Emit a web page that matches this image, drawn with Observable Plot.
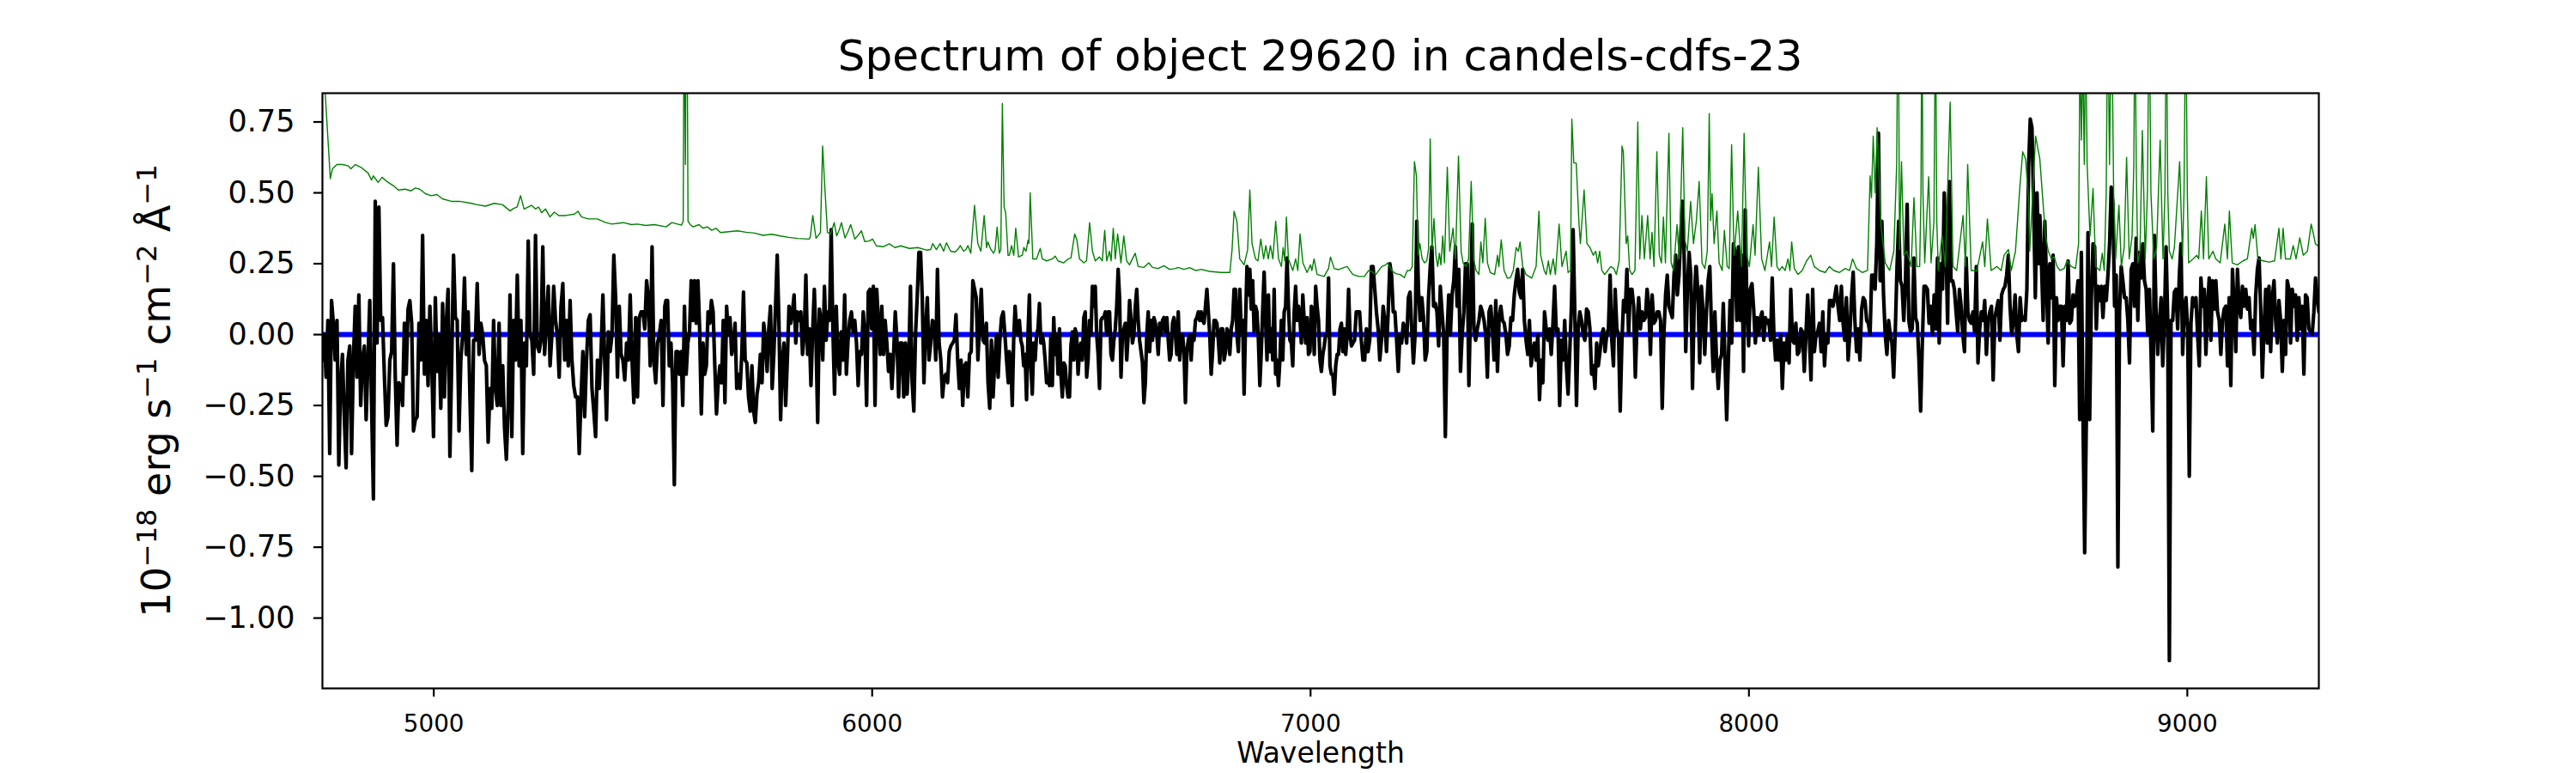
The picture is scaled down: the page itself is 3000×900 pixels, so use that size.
<!DOCTYPE html>
<html>
<head>
<meta charset="utf-8">
<script src="https://cdn.jsdelivr.net/npm/d3@7"></script>
<script src="https://cdn.jsdelivr.net/npm/@observablehq/plot@0.6"></script>
<style>
  body { margin: 0; background: #fff; font-family: "DejaVu Sans", sans-serif; }
  #title { width: 3000px; height: 95px; box-sizing: border-box; padding-top: 35px; padding-left: 75px;
           text-align: center; font-size: 50px; line-height: 60px; color: #000; white-space: nowrap; }
</style>
</head>
<body>
<div id="title">Spectrum of object 29620 in candels-cdfs-23</div>
<div id="chart"></div>
<script>
// wavelength range (Angstrom) of each stretch of the observed spectrum (regular sampling inside each stretch)
const segStart = [4746, 5529.5, 6313, 7096.6, 7880, 8663.6];
const segEnd   = [5527, 6310.5, 7093.3, 7878.9, 8661, 9300];

// observed flux, 1e-18 erg/s/cm2/A
const flux1 = [-0.09,0.00,-0.15,0.05,-0.42,0.12,0.04,-0.09,0.05,-0.46,-0.17,-0.07,-0.29,-0.47,-0.09,-0.04,-0.42,-0.09,0.10,-0.15,0.14,-0.25,-0.09,-0.04,-0.30,-0.09,0.12,-0.25,-0.58,0.47,-0.03,0.45,0.05,0.06,-0.14,-0.32,-0.29,-0.09,-0.06,0.25,-0.15,-0.39,-0.17,-0.19,-0.25,0.04,-0.14,0.09,0.12,0.04,-0.34,-0.30,-0.29,0.04,-0.09,0.35,-0.14,0.05,-0.18,0.10,-0.09,-0.36,0.13,-0.13,0.00,-0.26,0.11,-0.22,0.04,0.16,-0.43,-0.09,0.28,0.06,0.05,-0.34,-0.09,0.00,0.20,-0.07,0.08,-0.22,-0.48,-0.02,-0.02,0.18,-0.07,0.04,0.00,-0.09,-0.11,-0.38,-0.19,-0.26,0.05,-0.19,-0.25,0.04,-0.25,-0.11,-0.33,-0.44,-0.25,0.14,-0.36,0.05,-0.09,0.21,-0.11,0.05,-0.42,-0.03,-0.11,0.33,0.00,-0.02,-0.14,0.35,-0.04,-0.06,-0.02,0.31,-0.07,0.05,0.17,-0.11,0.00,0.17,0.05,0.00,-0.15,0.10,0.18,-0.09,0.05,-0.11,0.12,-0.09,-0.18,-0.22,-0.22,-0.42,-0.22,-0.06,-0.29,-0.09,0.05,0.07,-0.19,-0.27,-0.36,-0.09,-0.19,-0.06,0.14,-0.09,-0.30,0.01,-0.06,0.00,0.28,0.13,-0.15,0.10,-0.07,-0.09,-0.16,-0.03,-0.09,0.14,-0.09,-0.24,0.06,-0.22,0.06,0.08,0.08,0.02,0.19,0.13,-0.11,0.31,-0.09,-0.17,-0.03,0.00,0.05,-0.25,0.10];
const flux2 = [0.12,0.12,-0.11,-0.03,-0.17,-0.53,-0.06,-0.06,-0.14,-0.06,-0.25,0.10,-0.14,-0.03,0.01,0.19,0.05,0.19,0.04,0.19,0.02,-0.28,-0.03,-0.14,-0.11,0.08,0.04,0.12,0.08,-0.11,-0.28,-0.17,-0.11,-0.17,0.05,-0.24,0.10,0.00,0.06,-0.07,-0.03,0.04,-0.19,-0.14,-0.19,-0.07,0.15,-0.09,-0.10,-0.22,-0.27,-0.11,-0.27,-0.31,-0.21,-0.17,-0.07,-0.17,0.04,-0.02,-0.13,0.02,0.10,-0.19,-0.07,0.10,0.28,0.05,-0.30,-0.09,-0.03,-0.25,-0.09,0.10,0.04,0.08,0.14,-0.03,0.08,0.05,0.08,-0.07,0.00,0.21,-0.07,0.02,-0.18,0.01,0.16,-0.02,-0.31,0.09,0.05,-0.09,0.17,-0.02,0.08,0.05,0.37,0.02,-0.21,0.10,-0.09,-0.14,0.01,-0.09,0.14,-0.14,-0.02,0.05,0.08,0.01,0.05,-0.03,-0.18,-0.06,-0.07,0.08,0.00,-0.25,0.15,0.16,0.02,0.17,-0.25,0.16,0.04,-0.07,0.10,-0.07,0.05,-0.03,-0.13,-0.07,-0.19,-0.07,0.08,-0.02,-0.22,-0.03,-0.03,-0.22,-0.03,-0.21,-0.09,0.17,-0.17,-0.27,0.00,0.13,0.29,0.29,0.13,-0.17,0.02,0.13,-0.09,-0.03,0.05,0.04,-0.09,0.23,-0.03,-0.09,-0.22,-0.15,-0.14,-0.17,-0.06,-0.04,-0.03,-0.02,0.07,-0.09,-0.19,-0.09,-0.25,-0.11,-0.10,-0.22,-0.07,-0.06,0.19,0.16,0.13,-0.09,0.04,0.16,-0.02,-0.03,0.04,-0.17,-0.26,-0.02,-0.22,-0.09,0.00,-0.15,-0.02,0.06,0.08,0.00,-0.09,-0.17];
const flux3 = [-0.06,-0.09,-0.25,-0.02,0.10,0.02,0.00,0.05,-0.02,-0.04,-0.11,-0.07,-0.23,0.00,0.14,-0.11,-0.21,-0.03,-0.09,0.00,0.02,0.11,-0.03,0.00,-0.03,-0.09,-0.17,-0.15,-0.18,0.00,-0.18,0.06,-0.07,0.00,-0.14,0.02,-0.14,-0.22,-0.10,-0.11,-0.18,-0.22,-0.22,-0.04,0.01,-0.09,0.02,0.00,-0.14,-0.06,-0.03,-0.09,0.06,0.08,-0.15,-0.09,0.05,0.00,0.17,0.10,0.17,0.00,-0.07,-0.19,0.05,0.06,0.06,0.08,0.00,0.08,0.08,-0.07,-0.09,-0.02,0.02,0.10,0.23,0.13,-0.15,0.00,0.02,0.04,-0.09,0.00,0.12,0.05,-0.03,0.00,0.10,0.16,0.05,-0.02,-0.06,-0.10,-0.24,-0.17,0.00,0.08,-0.06,0.05,-0.02,0.06,0.04,0.00,-0.07,0.04,0.00,0.05,0.06,0.01,0.06,-0.02,-0.09,-0.07,0.04,0.06,0.00,-0.07,0.08,-0.09,-0.02,0.00,-0.06,-0.24,-0.06,-0.02,0.00,-0.09,0.00,-0.02,0.05,0.06,0.08,0.05,0.08,0.05,0.04,0.10,0.16,0.08,0.00,-0.14,-0.06,0.05,0.05,0.04,-0.02,-0.10,0.02,0.02,-0.09,-0.06,0.02,0.01,-0.07,0.02,0.05,0.16,0.16,0.00,-0.06,0.16,0.01,0.05,-0.21,0.04,0.24,0.14,0.23,0.09,0.19,0.01,0.10,0.08,-0.02,-0.18,-0.06,0.09,0.22,0.05,-0.09,0.14,-0.06,0.02,-0.09,0.16,-0.14,-0.09,-0.18,-0.09,0.05,-0.09,0.08,0.10,0.27,0.10,-0.02,-0.03,-0.11,0.08,0.17,0.05,0.10,0.06,-0.03,0.14,0.05,-0.03,0.06,-0.07,-0.06,0.10,0.08,-0.07,0.17,0.10,0.05,-0.09,-0.13,-0.07,-0.04,0.00,0.00,0.20,-0.11,-0.14,-0.14,-0.21,-0.11,-0.07,-0.07,0.02,0.04,-0.06,0.02,-0.07,0.00,0.16,0.00,-0.04];
const flux4 = [-0.03,-0.02,0.08,0.08,0.08,-0.02,-0.09,-0.09,0.02,-0.06,-0.02,0.24,0.24,0.16,0.08,0.02,-0.09,-0.02,0.10,0.05,-0.06,0.08,0.25,0.21,0.08,0.08,-0.02,-0.13,0.00,-0.03,0.04,0.02,-0.03,0.13,0.15,0.02,-0.10,0.00,0.40,0.16,0.05,0.13,0.06,-0.09,-0.06,0.13,0.24,0.31,0.10,0.11,0.08,-0.04,0.17,0.08,0.00,-0.36,0.00,0.14,0.00,0.14,0.19,0.31,0.10,0.23,-0.13,0.00,0.08,0.25,0.25,-0.18,0.10,0.39,0.02,-0.02,0.02,0.05,0.10,0.08,0.05,0.00,-0.15,0.08,0.10,0.02,-0.09,0.12,-0.13,0.06,0.10,0.05,0.04,0.00,-0.07,-0.04,0.06,0.05,0.14,0.19,0.23,0.15,0.13,0.23,0.05,-0.02,-0.07,0.05,-0.11,-0.06,-0.03,-0.09,0.00,-0.23,-0.09,-0.17,0.08,0.02,-0.02,0.02,-0.07,0.04,0.17,0.01,0.02,-0.25,-0.02,-0.09,0.05,-0.11,-0.21,-0.06,0.10,0.37,0.08,-0.25,0.02,0.08,0.05,0.00,-0.02,0.09,0.08,0.02,-0.14,-0.11,-0.19,-0.03,-0.11,-0.06,0.00,0.02,-0.06,0.00,0.02,0.21,-0.02,-0.11,0.16,0.02,0.00,-0.27,-0.03,0.12,0.08,0.23,0.00,0.16,0.16,0.10,-0.15,0.04,0.13,0.02,0.08,0.05,0.06,0.16,0.10,-0.07,0.14,0.04,0.05,0.08,0.08,0.05,-0.26,0.00,0.14,0.21,0.10,0.08,0.06,0.21,0.28,0.14,0.21,0.35,0.47,0.29,-0.06,0.16,0.29,0.21,-0.19,0.10,0.24];
const flux5 = [0.24,0.14,-0.10,0.17,0.08,-0.07,0.08,0.19,0.24,0.02,-0.13,0.08,-0.09,-0.19,-0.09,-0.07,0.11,-0.09,-0.30,-0.09,0.12,-0.03,0.32,0.29,0.05,0.31,0.05,0.28,-0.13,0.44,0.10,-0.04,0.16,0.18,0.09,-0.03,0.06,0.00,0.06,0.08,-0.02,0.06,0.04,0.05,-0.02,0.20,0.00,-0.09,-0.02,-0.09,0.00,-0.19,-0.03,-0.09,0.00,-0.10,0.16,-0.02,-0.03,0.04,-0.07,-0.06,0.02,0.01,-0.13,0.00,0.14,0.00,-0.16,0.16,-0.06,0.00,0.01,0.04,-0.06,0.08,-0.11,0.00,-0.03,0.12,0.12,0.10,0.13,0.17,0.10,0.05,0.17,0.04,-0.02,0.13,-0.09,0.00,0.13,0.22,0.05,-0.06,0.02,-0.09,0.09,0.13,0.12,0.05,0.04,0.00,0.21,0.21,0.16,0.32,0.71,0.19,0.40,0.14,0.00,-0.07,0.05,0.00,-0.03,-0.15,0.02,0.24,0.40,0.19,0.17,0.05,0.19,0.46,0.05,0.01,0.02,0.27,0.06,0.04,-0.09,-0.27,-0.03,0.17,0.17,0.16,0.04,0.10,0.00,0.14,0.02,0.27,-0.03,0.25,0.16,0.50,0.32,0.04,0.54,0.19,0.19,0.16,0.08,0.01,0.16,0.10,0.00,-0.06,0.27,0.08,0.05,0.04,0.08,0.01,0.24,-0.10,0.02,0.08,0.05,0.12,-0.07,0.05,0.08,0.10,-0.16,0.06,0.09,0.12,-0.02,0.14,0.16,0.17,0.21,0.28,0.10,0.00,0.05,0.14,0.00,-0.06,0.13,0.05,0.06,0.05,0.16,0.59,0.76,0.73,0.46,0.13,0.50,0.25];
const flux6 = [0.42,0.25,0.05,0.40,0.19,-0.03,0.25,0.13,0.28,-0.18,0.13,0.05,0.10,0.10,-0.11,0.10,0.05,0.26,0.04,0.05,0.14,0.10,0.13,0.19,-0.30,0.29,-0.30,-0.77,-0.30,0.36,-0.30,0.12,0.32,0.31,0.02,0.17,0.12,0.17,0.06,0.17,0.12,0.21,0.32,0.52,0.46,0.10,0.21,-0.82,0.08,0.24,0.19,0.13,0.13,0.05,-0.10,0.23,0.25,0.10,0.34,0.05,0.29,0.20,0.32,0.19,0.16,0.00,0.16,-0.07,-0.34,0.35,0.08,-0.07,0.04,0.13,-0.11,0.05,0.31,0.06,-1.15,0.05,0.05,0.15,0.16,0.02,0.21,0.32,-0.07,0.09,0.13,0.02,-0.50,0.04,0.13,0.10,0.13,0.00,-0.11,0.20,0.10,0.16,-0.07,0.10,0.20,-0.02,0.19,0.09,0.19,0.08,0.05,-0.07,0.05,0.09,0.10,-0.11,0.13,-0.18,0.23,0.10,-0.06,0.23,0.10,0.06,0.17,0.10,0.16,0.09,0.13,0.02,0.05,-0.07,0.14,0.23,0.27,0.09,-0.15,0.02,0.16,-0.03,0.17,-0.06,0.13,0.19,0.05,-0.03,0.12,0.05,-0.13,0.05,-0.07,0.19,0.16,-0.03,0.16,0.10,0.14,-0.02,0.13,0.02,0.10,-0.14,0.14,0.13,0.02,0.01,0.00,0.08,0.20,0.13,0.08];

// scaled sky spectrum: [wavelength, flux]
const skyModel = [
[4746,1.0],[4752,0.86],[4764,0.55],[4769,0.585],[4779,0.60],[4792,0.60],[4805,0.595],[4811,0.585],[4821,0.60],[4834,0.59],[4850,0.57],[4858,0.545],[4862,0.56],[4867,0.55],[4873,0.537],[4882,0.555],[4893,0.54],[4909,0.524],[4919,0.51],[4935,0.513],[4948,0.507],[4958,0.517],[4968,0.513],[4981,0.497],[4994,0.49],[5007,0.494],[5020,0.479],[5040,0.47],[5059,0.47],[5086,0.463],[5099,0.458],[5118,0.453],[5138,0.463],[5157,0.458],[5174,0.436],[5182,0.445],[5190,0.45],[5198,0.49],[5206,0.443],[5223,0.456],[5232,0.443],[5239,0.45],[5246,0.43],[5255,0.443],[5265,0.415],[5275,0.432],[5285,0.42],[5301,0.42],[5321,0.425],[5329,0.435],[5337,0.415],[5353,0.408],[5373,0.408],[5392,0.395],[5406,0.39],[5432,0.395],[5451,0.388],[5464,0.39],[5484,0.385],[5503,0.388],[5530,0.38],
[5543,0.395],[5556,0.39],[5565,0.386],[5569,0.40],[5571,1.2],[5574,0.6],[5576.5,1.5],[5580,0.40],[5585,0.388],[5591.5,0.38],[5605,0.388],[5614,0.375],[5624,0.38],[5634,0.368],[5644,0.375],[5654,0.36],[5673,0.363],[5693,0.366],[5712,0.361],[5732,0.358],[5751,0.35],[5771,0.354],[5791,0.348],[5810,0.343],[5830,0.339],[5856,0.337],[5859,0.345],[5864.5,0.42],[5872,0.34],[5882,0.36],[5887,0.665],[5892,0.52],[5898,0.36],[5905,0.354],[5913.5,0.395],[5919,0.348],[5925,0.37],[5930,0.395],[5938,0.341],[5944,0.36],[5951,0.388],[5960.5,0.337],[5968,0.35],[5975.5,0.366],[5983,0.328],[5993,0.33],[6001,0.337],[6009.5,0.313],[6026,0.31],[6039,0.32],[6052,0.307],[6065,0.313],[6085,0.304],[6104,0.307],[6124,0.298],[6133.5,0.30],[6138,0.321],[6146.5,0.30],[6155,0.321],[6163,0.294],[6169.5,0.324],[6179,0.294],[6189,0.291],[6195.5,0.30],[6201,0.314],[6208.5,0.294],[6214,0.30],[6218.5,0.314],[6225,0.287],[6233.5,0.456],[6241,0.321],[6248,0.294],[6255.5,0.42],[6261,0.307],[6264,0.327],[6270.5,0.301],[6277,0.287],[6280.5,0.30],[6285,0.379],[6290,0.287],[6293.5,0.30],[6297,0.815],[6301,0.45],[6304.5,0.43],[6310,0.279],
[6313,0.28],[6318,0.314],[6323,0.28],[6327.5,0.375],[6334,0.274],[6342.5,0.28],[6346,0.307],[6351,0.294],[6355.5,0.333],[6357.5,0.321],[6360.5,0.50],[6366.5,0.267],[6375,0.267],[6379.5,0.287],[6383.5,0.304],[6388,0.267],[6398,0.26],[6411,0.267],[6417.5,0.277],[6424,0.26],[6437,0.253],[6447,0.267],[6453.5,0.27],[6462,0.355],[6467,0.334],[6473,0.267],[6483,0.253],[6489,0.26],[6496,0.395],[6502.5,0.294],[6509,0.26],[6518.5,0.274],[6525,0.26],[6530.5,0.368],[6535,0.26],[6541.5,0.294],[6545,0.26],[6550,0.375],[6554.5,0.267],[6560,0.355],[6567.5,0.253],[6574,0.348],[6580.5,0.26],[6587,0.246],[6600,0.287],[6607,0.24],[6620,0.237],[6631,0.253],[6639.5,0.237],[6652.5,0.233],[6665.5,0.243],[6678.5,0.23],[6692,0.233],[6698,0.237],[6711,0.23],[6724.5,0.236],[6737.5,0.226],[6750.5,0.23],[6770,0.223],[6796,0.219],[6816,0.219],[6821,0.30],[6825.5,0.435],[6832,0.40],[6838.5,0.267],[6848.5,0.246],[6856.5,0.30],[6861.5,0.51],[6866.5,0.321],[6874.5,0.267],[6880,0.26],[6886.5,0.337],[6893,0.267],[6898,0.314],[6903.5,0.267],[6908.5,0.314],[6914,0.267],[6920.5,0.40],[6927,0.267],[6933.5,0.24],[6937.5,0.307],[6941,0.26],[6945,0.415],[6949.5,0.267],[6959.5,0.226],[6966,0.267],[6971,0.226],[6976,0.355],[6982.5,0.253],[6992,0.219],[7000,0.246],[7003,0.226],[7008,0.267],[7015,0.212],[7031,0.205],[7041,0.233],[7045.5,0.274],[7054,0.233],[7064,0.229],[7077,0.237],[7083.5,0.24],[7096.5,0.212],
[7110,0.205],[7123,0.205],[7132.5,0.226],[7139,0.223],[7149,0.212],[7162,0.24],[7171.5,0.246],[7176,0.253],[7185,0.226],[7194.5,0.215],[7204.5,0.212],[7214,0.201],[7220.5,0.226],[7227,0.226],[7232,0.24],[7237,0.61],[7241.5,0.56],[7245.5,0.28],[7249.5,0.321],[7254.5,0.267],[7260,0.253],[7265,0.26],[7269,0.30],[7273,0.69],[7277,0.30],[7281.5,0.409],[7286,0.28],[7290,0.24],[7294,0.287],[7297.5,0.246],[7301.5,0.348],[7305.5,0.253],[7312,0.59],[7317.5,0.294],[7325,0.375],[7330.5,0.267],[7337.5,0.63],[7343.5,0.294],[7348,0.253],[7354.5,0.24],[7360.5,0.267],[7366.5,0.54],[7372,0.267],[7377.5,0.226],[7384,0.212],[7388.5,0.327],[7393,0.253],[7398.5,0.41],[7403.5,0.253],[7410,0.219],[7420,0.212],[7426.5,0.28],[7429.5,0.24],[7435,0.334],[7441.5,0.226],[7449,0.199],[7456,0.201],[7462.5,0.226],[7469,0.307],[7474,0.294],[7478,0.327],[7484,0.24],[7491.5,0.212],[7504.5,0.199],[7514.5,0.24],[7521,0.435],[7525,0.28],[7533,0.226],[7537.5,0.212],[7542.5,0.26],[7547,0.212],[7553.5,0.267],[7558.5,0.212],[7567,0.39],[7573.5,0.24],[7583,0.294],[7587.5,0.219],[7593,0.226],[7596,0.76],[7600.5,0.605],[7606,0.605],[7612.5,0.388],[7615.5,0.321],[7624,0.51],[7630.5,0.321],[7637.5,0.307],[7645,0.28],[7650.5,0.294],[7655,0.253],[7659.5,0.294],[7664.5,0.226],[7671,0.212],[7678,0.226],[7684.5,0.24],[7692,0.233],[7697.5,0.212],[7704,0.26],[7710.5,0.665],[7713.5,0.645],[7720,0.321],[7723.5,0.348],[7728,0.226],[7733.5,0.212],[7740,0.226],[7746.5,0.75],[7751,0.267],[7756,0.42],[7761.5,0.267],[7769,0.42],[7774.5,0.267],[7779,0.361],[7783.5,0.24],[7790,0.645],[7795.5,0.28],[7800.5,0.253],[7805,0.415],[7809.5,0.253],[7817.5,0.71],[7822.5,0.253],[7828,0.226],[7836,0.388],[7841,0.267],[7849,0.73],[7854,0.334],[7859.5,0.294],[7867,0.47],[7873.5,0.321],[7880,0.40],
[7886.5,0.54],[7893,0.253],[7899.5,0.233],[7905,0.294],[7909.5,0.78],[7912.5,0.402],[7916,0.497],[7920.5,0.321],[7927,0.436],[7932,0.253],[7939,0.226],[7944,0.368],[7950.5,0.24],[7955,0.233],[7960.5,0.67],[7966,0.28],[7974.5,0.436],[7983,0.24],[7989,0.71],[7995,0.28],[8001,0.24],[8009.5,0.388],[8014,0.28],[8021.5,0.59],[8029,0.267],[8036.5,0.226],[8047,0.327],[8051.5,0.24],[8057.5,0.415],[8064,0.24],[8069.5,0.226],[8076,0.24],[8082.5,0.226],[8089,0.267],[8093.5,0.226],[8097.5,0.327],[8103.5,0.233],[8112,0.212],[8121.5,0.226],[8131.5,0.26],[8141,0.28],[8149,0.24],[8161,0.226],[8174,0.219],[8183.5,0.24],[8193.5,0.226],[8206.5,0.219],[8219.5,0.233],[8229.5,0.226],[8236.5,0.267],[8245.5,0.233],[8258.5,0.219],[8270.5,0.226],[8276.5,0.56],[8279.5,0.483],[8283.5,0.70],[8288,0.50],[8292.5,0.73],[8301,0.388],[8311,0.253],[8321,0.226],[8330.5,0.294],[8337,0.60],[8340.5,1.3],[8343.5,0.30],[8348,0.61],[8353.5,0.28],[8360,0.294],[8370,0.24],[8376.5,0.483],[8383,0.24],[8389.5,0.24],[8392.5,0.5],[8394.5,1.2],[8397,0.5],[8401,0.253],[8410,0.557],[8415.5,0.253],[8422,0.4],[8425.5,1.2],[8428.5,0.40],[8432,0.226],[8440.5,0.348],[8448,0.24],[8459,0.82],[8465.5,0.24],[8474,0.226],[8488.5,0.42],[8494,0.24],[8499,0.60],[8507,0.226],[8520,0.226],[8533,0.327],[8538,0.24],[8544,0.408],[8552.5,0.226],[8565.5,0.24],[8575.5,0.226],[8582,0.28],[8592,0.30],[8598.5,0.226],[8608,0.294],[8618,0.52],[8624.5,0.645],[8631,0.62],[8637.5,0.483],[8640.5,0.294],[8654,0.70],[8663.5,0.62],
[8670,0.483],[8676.5,0.348],[8683,0.294],[8690,0.267],[8696.5,0.274],[8703,0.24],[8709.5,0.226],[8719,0.233],[8725.5,0.26],[8735.5,0.24],[8745,0.233],[8752,0.321],[8755,1.0],[8758.5,0.686],[8761.5,1.0],[8765,0.6],[8768,1.1],[8771.5,0.6],[8778,0.348],[8785,0.515],[8791,0.24],[8800.5,0.226],[8806,0.287],[8810.5,0.226],[8815,0.5],[8818.5,1.2],[8822.5,0.6],[8827,1.2],[8832,0.5],[8836.5,0.267],[8844,0.456],[8849.5,0.24],[8856,0.307],[8861.5,0.625],[8867.5,0.267],[8874,0.348],[8878,0.6],[8880.5,1.2],[8883.5,0.6],[8887,0.253],[8892,0.294],[8897.5,0.72],[8904,0.267],[8909,0.5],[8913,1.2],[8917,0.5],[8923.5,0.267],[8930,0.307],[8938,0.686],[8944.5,0.267],[8949,0.5],[8952,1.2],[8955.5,0.5],[8959,0.294],[8965.5,0.267],[8970.5,0.307],[8982.5,0.61],[8989,0.28],[8992.5,0.5],[8996.5,1.2],[9000,0.5],[9003,0.253],[9013,0.267],[9021.5,0.28],[9026,0.267],[9032,0.436],[9037,0.267],[9043.5,0.557],[9049,0.267],[9058.5,0.294],[9065,0.267],[9075,0.253],[9085.5,0.39],[9091.5,0.267],[9096,0.436],[9102.5,0.253],[9114,0.246],[9127,0.26],[9137,0.267],[9147,0.375],[9150.5,0.34],[9154.5,0.388],[9161,0.267],[9173,0.26],[9186,0.256],[9199,0.26],[9209,0.375],[9213.5,0.267],[9218.5,0.375],[9224,0.267],[9235,0.267],[9241.5,0.314],[9248,0.267],[9256.5,0.341],[9264.5,0.28],[9274,0.294],[9282.5,0.39],[9287,0.36],[9292,0.321],[9297,0.314],[9300,0.314]
];

const zeroLevel = [0];
const xTicks = [5000, 6000, 7000, 8000, 9000];
const yTicks = [-1.00, -0.75, -0.50, -0.25, 0.00, 0.25, 0.50, 0.75];
const xDomain = [4746, 9300];
const yDomain = [-1.248, 0.8515];
const xLabel = "Wavelength";
// y label pieces: [text, isSuperscript]
const yLabelParts = [["10", false], ["\u221218", true], [" erg s", false], ["\u22121", true], [" cm", false], ["\u22122", true], [" \u00C5", false], ["\u22121", true]];
const yLabel = yLabelParts.map(d => d[0]).join("");

const fluxSegments = [flux1, flux2, flux3, flux4, flux5, flux6];
const spectrum = fluxSegments.flatMap((seg, k) =>
  seg.map((f, i) => ({wave: segStart[k] + i * (segEnd[k] - segStart[k]) / (seg.length - 1), flux: f})));
const sky = skyModel.map(([w, f]) => ({wave: w, flux: f}));

const chart = Plot.plot({
  width: 3000,
  height: 805,
  marginTop: 13,
  marginBottom: 99,
  marginLeft: 375,
  marginRight: 300,
  style: {fontFamily: "DejaVu Sans", background: "#fff", color: "#000"},
  x: {domain: xDomain},
  y: {domain: yDomain},
  marks: [
    Plot.ruleY(zeroLevel, {stroke: "#0000ff", strokeWidth: 6}),
    Plot.line(spectrum, {x: "wave", y: "flux", stroke: "#000", strokeWidth: 4.2, clip: true}),
    Plot.line(sky, {x: "wave", y: "flux", stroke: "#008000", strokeWidth: 1.4, clip: true}),
    Plot.frame({stroke: "#000", strokeWidth: 2.2}),
    Plot.axisX(xTicks, {tickFormat: "d", tickSize: 10, tickPadding: 21, fontSize: 27.8, strokeWidth: 2.2, label: null}),
    Plot.axisY(yTicks, {tickFormat: ".2f", tickSize: 10, tickPadding: 22, fontSize: 35, strokeWidth: 2.2, label: null}),
    Plot.text([xLabel], {frameAnchor: "bottom", dy: 86, lineAnchor: "bottom", fontSize: 33, fill: "#000"}),
    Plot.text([yLabel], {frameAnchor: "left", dx: -192, rotate: -90, textAnchor: "middle", lineAnchor: "middle", fontSize: 46, fill: "#000"})
  ]
});

// typeset the superscripts of the y label as in mathtext
d3.select(chart).selectAll("text").filter(function () { return this.textContent === yLabel; }).each(function () {
  const t = d3.select(this);
  t.text(null);
  let raised = false;
  for (const [s, sup] of yLabelParts) {
    const span = t.append("tspan").text(s);
    if (sup && !raised) { span.attr("dy", "-16px").attr("font-size", "32px"); raised = true; }
    else if (sup) { span.attr("font-size", "32px"); }
    else if (raised) { span.attr("dy", "16px"); raised = false; }
  }
});

document.getElementById("chart").appendChild(chart);
</script>
</body>
</html>
